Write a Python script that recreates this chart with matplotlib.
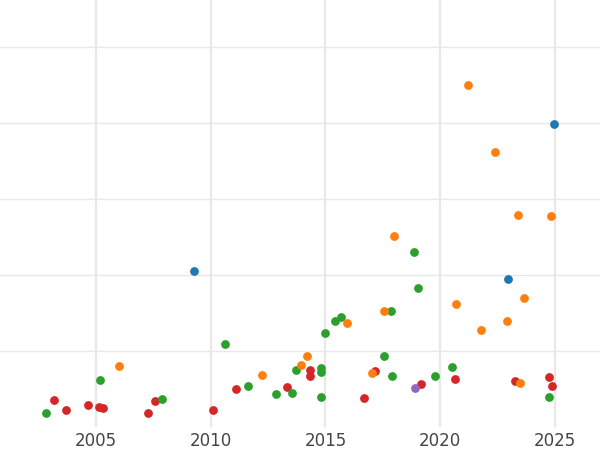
import matplotlib.pyplot as plt

red_x = [2003.17, 2003.69, 2004.65, 2005.13, 2005.31, 2007.27, 2007.57, 2010.10, 2011.10, 2013.32, 2014.32, 2014.32, 2016.68, 2017.16, 2019.16, 2020.64, 2023.26, 2024.74, 2024.87]
red_y = [0.36, 0.22, 0.29, 0.26, 0.25, 0.18, 0.34, 0.22, 0.50, 0.53, 0.75, 0.67, 0.38, 0.74, 0.57, 0.63, 0.61, 0.66, 0.54]
green_x = [2002.82, 2005.17, 2007.88, 2010.62, 2011.62, 2012.84, 2013.54, 2013.71, 2014.80, 2014.80, 2014.80, 2014.98, 2015.41, 2015.68, 2017.55, 2017.85, 2017.90, 2018.86, 2019.03, 2019.77, 2020.51, 2024.74]
green_y = [0.18, 0.62, 0.37, 1.09, 0.54, 0.43, 0.45, 0.75, 0.78, 0.72, 0.39, 1.24, 1.39, 1.45, 0.93, 1.53, 0.67, 2.30, 1.83, 0.67, 0.79, 0.39]
orange_x = [2006.00, 2012.23, 2013.93, 2014.19, 2015.94, 2017.03, 2017.55, 2017.98, 2020.69, 2021.21, 2021.78, 2022.39, 2022.91, 2023.39, 2023.48, 2023.65, 2024.83]
orange_y = [0.80, 0.68, 0.82, 0.93, 1.37, 0.71, 1.53, 2.51, 1.62, 4.50, 1.28, 3.62, 1.39, 2.79, 0.58, 1.70, 2.78]
blue_x = [2009.28, 2022.95, 2024.96]
blue_y = [2.05, 1.95, 3.99]
purple_x = [2018.90]
purple_y = [0.51]

fig = plt.figure(figsize=(6, 4.5), dpi=100)
ax = fig.add_axes([0, 0.051, 1, 0.949])
for xs, ys, c in [(red_x, red_y, '#d62728'), (green_x, green_y, '#2ca02c'),
                  (orange_x, orange_y, '#ff7f0e'), (blue_x, blue_y, '#1f77b4'),
                  (purple_x, purple_y, '#9467bd')]:
    ax.scatter(xs, ys, s=40, color=c, zorder=3, linewidths=0)

ax.set_xlim(2000.82, 2026.96)
ax.set_ylim(0, 5.62)
ax.set_xticks([2005, 2010, 2015, 2020, 2025])
ax.set_yticks([1, 2, 3, 4, 5])
ax.set_yticklabels([])
ax.tick_params(axis='both', length=0, labelsize=12, colors='#444444')
ax.grid(True, color='#e8e8e8', linewidth=1)
ax.grid(axis='x', linewidth=1.6)
for s in ax.spines.values():
    s.set_visible(False)
fig.savefig('out.png')
